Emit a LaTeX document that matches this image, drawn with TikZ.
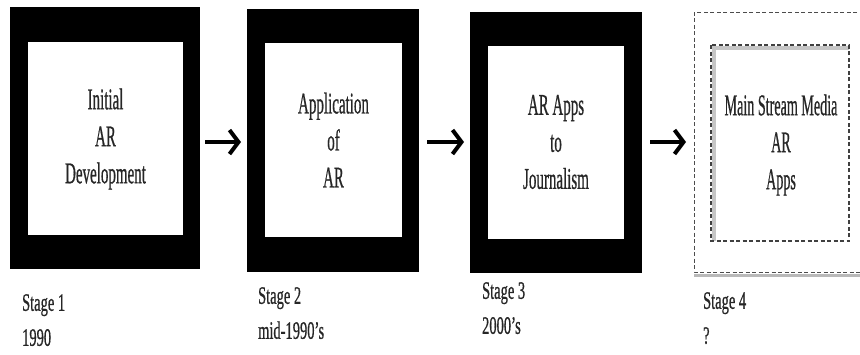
\documentclass[tikz,border=0pt]{standalone}
\usepackage{fontspec}
\setmainfont{Liberation Serif}[BoldFont={Liberation Serif},BoldFeatures={FakeBold=0.9}]
\usetikzlibrary{arrows.meta}
\begin{document}
\begin{tikzpicture}[x=1pt,y=-1pt,
  frame/.style={fill=black,draw=none},
  hole/.style={fill=white,draw=none},
  boxtext/.style={align=center,inner sep=0pt,xscale=0.5,text=black!85,
    font=\fontsize{30}{37}\selectfont\bfseries},
  stagetext/.style={align=left,inner sep=0pt,xscale=0.58,anchor=north west,text=black!85,
    font=\fontsize{25}{35}\selectfont\bfseries},
  flow/.style={line width=4pt,-{Straight Barb[length=9pt,width=24pt]},black}]
\useasboundingbox[fill=white] (0,0) rectangle (860,354);

% Stage 1
\fill[frame] (10,7) rectangle (200,269);
\fill[hole] (28,42) rectangle (183,235);
\node[boxtext] (t1) at (105.5,139) {Initial\\AR\\Development};
\node[stagetext] (s1) at (22,294) {Stage 1\\1990};
\coordinate (o1) at (200,142);

% Stage 2
\fill[frame] (247,9) rectangle (419,272);
\fill[hole] (265,43) rectangle (402,237);
\node[boxtext] (t2) at (333.5,140) {Application\\of\\AR};
\node[stagetext] (s2) at (258,287) {Stage 2\\mid-1990's};
\coordinate (i2) at (247,142);
\coordinate (o2) at (419,142);

% Stage 3
\fill[frame] (470,12) rectangle (642,273);
\fill[hole] (488,46) rectangle (624,239);
\node[boxtext] (t3) at (556,142) {AR Apps\\to\\Journalism};
\node[stagetext] (s3) at (482,282) {Stage 3\\2000's};
\coordinate (i3) at (470,142);
\coordinate (o3) at (642,142);

% Stage 4
\draw[gray!55,line width=3pt] (694,275) -- (870,275);
\draw[black!70,line width=0.9pt,dash pattern=on 4pt off 2.5pt] (870,12) -- (694,12) -- (694,272) -- (870,272);
\draw[gray!45,line width=4pt] (714,241) -- (714,48) -- (849,48);
\draw[black!75,line width=1.3pt,dash pattern=on 4pt off 2.5pt] (711,45) rectangle (849,241);
\node[boxtext,xscale=0.94] (t4) at (781,145) {Main Stream Media\\AR\\Apps};
\node[stagetext] (s4) at (703,292) {Stage 4\\?};
\coordinate (i4) at (694,142);

% Arrows
\draw[flow] ([xshift=5pt]o1) -- ([xshift=-6pt]i2);
\draw[flow] ([xshift=8pt]o2) -- ([xshift=-6pt]i3);
\draw[flow] ([xshift=8pt]o3) -- ([xshift=-8pt]i4);
\end{tikzpicture}
\end{document}
